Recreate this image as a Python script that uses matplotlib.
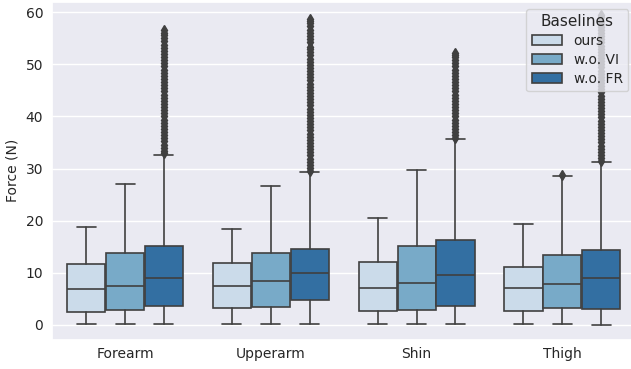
"""Force distribution per body part — boxplot of three baselines."""

import colorsys

import matplotlib

matplotlib.use("Agg")
import matplotlib.pyplot as plt  # noqa: E402
import seaborn as sns  # noqa: E402

parts = ["Forearm", "Upperarm", "Shin", "Thigh"]
baselines = ["ours", "w.o. VI", "w.o. FR"]

# box stats, one list per baseline, ordered like `parts`
whislo = {
    "ours": [0.1, 0.1, 0.1, 0.1],
    "w.o. VI": [0.1, 0.1, 0.1, 0.1],
    "w.o. FR": [0.1, 0.1, 0.1, -0.05],
}
q1 = {
    "ours": [2.5, 3.25, 2.55, 2.7],
    "w.o. VI": [2.9, 3.45, 2.9, 3.2],
    "w.o. FR": [3.6, 4.8, 3.6, 3.1],
}
med = {
    "ours": [6.8, 7.5, 7.0, 7.0],
    "w.o. VI": [7.35, 8.4, 8.1, 7.85],
    "w.o. FR": [9.0, 9.9, 9.5, 9.0],
}
q3 = {
    "ours": [11.75, 11.95, 12.1, 11.1],
    "w.o. VI": [13.7, 13.7, 15.2, 13.3],
    "w.o. FR": [15.2, 14.6, 16.3, 14.4],
}
whishi = {
    "ours": [18.8, 18.45, 20.5, 19.3],
    "w.o. VI": [27.0, 26.7, 29.8, 28.5],
    "w.o. FR": [32.65, 29.3, 35.6, 31.2],
}

fliers_forearm_fr = [32.9, 33.4, 34.0, 34.6, 35.2, 35.8, 36.4, 37.0, 37.6, 38.2,
                     38.8, 39.4, 40.0, 40.6, 41.2, 41.8, 42.4, 43.0, 43.6, 44.2,
                     44.8, 45.4, 46.0, 46.6, 47.2, 47.8, 48.4, 49.0, 49.6, 50.2,
                     50.8, 51.4, 52.0, 52.6, 53.2, 53.8, 54.4, 55.0, 55.6, 56.1,
                     56.5]
fliers_upperarm_fr = [29.6, 30.1, 30.7, 31.3, 31.9, 32.5, 33.1, 33.7, 34.3, 34.9,
                      35.5, 36.1, 36.7, 37.3, 37.9, 38.5, 39.1, 39.7, 40.3, 40.9,
                      41.5, 42.1, 42.7, 43.3, 43.9, 44.5, 45.1, 45.7, 46.3, 46.9,
                      47.5, 48.1, 48.7, 49.3, 49.9, 50.5, 51.1, 51.7, 52.3, 52.9,
                      53.4, 54.2, 54.8, 55.4, 56.0, 56.5, 57.4, 57.9, 58.4, 58.8]
fliers_shin_fr = [35.9, 36.4, 37.0, 37.6, 38.2, 38.8, 39.4, 40.0, 40.6, 41.2,
                  41.8, 42.4, 43.0, 43.6, 44.2, 44.8, 45.4, 46.0, 46.6, 47.2,
                  47.8, 48.4, 49.0, 49.6, 50.2, 50.8, 51.4, 51.8, 52.1]
fliers_thigh_fr = [31.5, 32.0, 32.6, 33.2, 33.8, 34.4, 35.0, 35.6, 36.2, 36.8,
                   37.4, 38.0, 38.6, 39.2, 39.8, 40.4, 41.0, 41.6, 42.2, 42.8,
                   43.4, 44.0, 44.6, 45.2, 45.8, 46.4, 47.0, 47.6, 48.2, 48.8,
                   49.4, 50.0, 50.6, 51.2, 51.8, 52.4, 53.0, 53.6, 54.2, 54.8,
                   55.4, 56.0, 56.6, 57.2, 57.8, 58.4, 59.0, 59.4]
fliers = {
    "ours": [[], [], [], []],
    "w.o. VI": [[], [], [], [28.7]],
    "w.o. FR": [fliers_forearm_fr, fliers_upperarm_fr, fliers_shin_fr, fliers_thigh_fr],
}

sns.set_theme(style="darkgrid")
colors = sns.color_palette("Blues", len(baselines), desat=0.75)
lum = min(colorsys.rgb_to_hls(*c)[1] for c in colors) * 0.6
gray = (lum, lum, lum)

fig = plt.figure(figsize=(6.31, 3.69), dpi=100)
# the original axes runs a few pixels past the right edge of the image
ax = fig.add_axes([0.0827, 0.079, 0.924, 0.916])

each = 0.8 / len(baselines)
lw = 1.2
for j, b in enumerate(baselines):
    offset = (j - 1) * each
    stats = [dict(whislo=whislo[b][i], q1=q1[b][i], med=med[b][i], q3=q3[b][i],
                  whishi=whishi[b][i], fliers=fliers[b][i]) for i in range(len(parts))]
    ax.bxp(stats, positions=[i + offset for i in range(len(parts))],
           widths=each * 0.98, patch_artist=True, manage_ticks=False,
           boxprops=dict(facecolor=colors[j], edgecolor=gray, linewidth=lw),
           medianprops=dict(color=gray, linewidth=lw),
           whiskerprops=dict(color=gray, linewidth=lw),
           capprops=dict(color=gray, linewidth=lw),
           flierprops=dict(marker="d", markersize=5, markerfacecolor=gray,
                           markeredgecolor=gray))

ax.set_xticks(range(len(parts)))
ax.set_xticklabels(parts, fontsize=10)
ax.tick_params(axis="y", labelsize=10, length=0, pad=6.5)
ax.tick_params(axis="x", length=0, pad=5.5)
ax.set_xlim(-0.5, len(parts) - 0.5)
ax.set_ylim(-2.9, 62.0)
ax.set_yticks([0, 10, 20, 30, 40, 50, 60])
ax.xaxis.grid(False)
ax.set_ylabel("Force (N)", fontsize=10)

handles = [plt.Rectangle((0, 0), 1, 1, facecolor=colors[j], edgecolor=gray,
                         linewidth=lw) for j in range(len(baselines))]
ax.legend(handles, baselines, title="Baselines", loc="upper right",
          fontsize=10, title_fontsize=11, labelspacing=0.35, handlelength=2.2)

fig.savefig("out.png", dpi=100)
plt.close(fig)
